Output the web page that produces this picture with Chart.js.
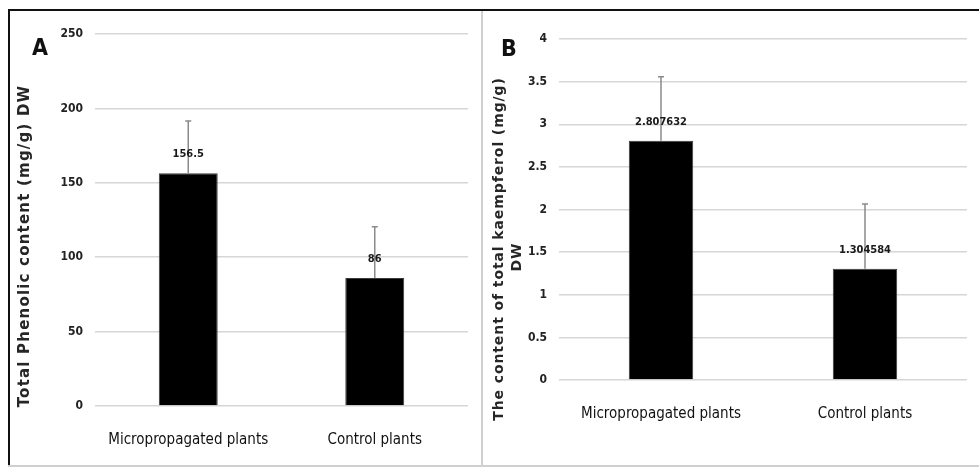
<!DOCTYPE html>
<html>
<head>
<meta charset="utf-8">
<script src="https://cdn.jsdelivr.net/npm/chart.js@4"></script>
<style>
  html, body { margin: 0; padding: 0; background: #fff; }
  body { width: 979px; height: 468px; position: relative; overflow: hidden; }
  canvas { position: absolute; }
  .line { position: absolute; }
  .letter { position: absolute; font-family: 'Liberation Sans Narrow', 'DejaVu Sans Condensed', sans-serif; font-weight: bold; font-size: 23px; color: #111; line-height: 1; }
</style>
</head>
<body>
<div class="line" style="left:8px;top:9px;width:971px;height:2px;background:#111;"></div>
<div class="line" style="left:8px;top:9px;width:2px;height:458px;background:#111;"></div>
<div class="line" style="left:8px;top:465px;width:971px;height:2px;background:#d0d0d0;"></div>
<div class="line" style="left:481px;top:11px;width:2px;height:455px;background:#d0d0d0;"></div>
<canvas id="cA" width="471" height="454" style="left:10px;top:11px;"></canvas>
<canvas id="cB" width="495" height="454" style="left:484px;top:11px;"></canvas>
<div class="letter" style="left:32px;top:36px;">A</div>
<div class="letter" style="left:501px;top:37px;">B</div>
<script>
const categories = ['Micropropagated plants', 'Control plants'];
const phenolic = [156.5, 86];
const phenolicErr = [35, 34.5];
const phenolicLabels = ['156.5', '86'];
const kaempferol = [2.807632, 1.304584];
const kaempferolErr = [0.75, 0.76];
const kaempferolLabels = ['2.807632', '1.304584'];
const yTicksA = [0, 50, 100, 150, 200, 250];
const yTicksB = [0, 0.5, 1, 1.5, 2, 2.5, 3, 3.5, 4];
const titleA = ['Total Phenolic content (mg/g) DW'];
const titleB = ['The content of total kaempferol (mg/g)', 'DW'];

const NARROW = "'Liberation Sans Narrow', 'DejaVu Sans Condensed', sans-serif";

const errPlugin = {
  id: 'errbars',
  afterDatasetsDraw(chart, args, opts) {
    const ctx = chart.ctx;
    const meta = chart.getDatasetMeta(0);
    const ys = chart.scales.y;
    const ds = chart.data.datasets[0];
    meta.data.forEach((bar, i) => {
      const v = ds.data[i];
      const yTop = ys.getPixelForValue(v + opts.errors[i]);
      ctx.save();
      ctx.strokeStyle = '#8a8a8a';
      ctx.lineWidth = 1.5;
      ctx.beginPath();
      ctx.moveTo(bar.x, bar.y);
      ctx.lineTo(bar.x, yTop);
      ctx.moveTo(bar.x - 3, yTop);
      ctx.lineTo(bar.x + 3, yTop);
      ctx.stroke();
      ctx.font = 'bold 11px ' + NARROW;
      ctx.fillStyle = '#1a1a1a';
      ctx.textAlign = 'center';
      ctx.textBaseline = 'middle';
      ctx.fillText(opts.labels[i], bar.x, bar.y - 19);
      ctx.restore();
    });
  }
};

const titlePlugin = {
  id: 'ytitle',
  afterDraw(chart, args, opts) {
    const ctx = chart.ctx;
    ctx.save();
    ctx.font = 'bold ' + opts.size + 'px "DejaVu Sans", Verdana, sans-serif';
    ctx.letterSpacing = opts.spacing + 'px';
    ctx.fillStyle = '#262626';
    ctx.textAlign = 'center';
    ctx.textBaseline = 'middle';
    opts.lines.forEach((t, i) => {
      ctx.save();
      ctx.translate(opts.x + i * opts.lineGap, opts.y + i * opts.shift);
      ctx.rotate(-Math.PI / 2);
      ctx.fillText(t, 0, 0);
      ctx.restore();
    });
    ctx.restore();
  }
};

function makeChart(id, values, errs, labels, ticks, max, yWidth, xHeight, pad, title) {
  return new Chart(document.getElementById(id), {
    type: 'bar',
    data: {
      labels: categories,
      datasets: [{
        data: values,
        backgroundColor: '#000',
        borderColor: '#3a3a3a',
        borderWidth: 1,
        categoryPercentage: 1,
        barPercentage: 0.316
      }]
    },
    plugins: [errPlugin, titlePlugin],
    options: {
      responsive: false,
      animation: false,
      devicePixelRatio: 1,
      layout: { padding: pad },
      plugins: {
        legend: { display: false },
        tooltip: { enabled: false },
        errbars: { errors: errs, labels: labels },
        ytitle: title
      },
      scales: {
        x: {
          grid: { display: false, drawTicks: false, tickLength: 0 },
          border: { display: false },
          ticks: { color: '#111', font: { family: NARROW, size: 15 }, padding: 25, maxRotation: 0 },
          afterFit(s) { s.height = xHeight; }
        },
        y: {
          min: 0, max: max,
          afterBuildTicks(s) { s.ticks = ticks.map(v => ({ value: v })); },
          grid: { color: '#d6d6d6', lineWidth: 1.5, drawTicks: false, tickLength: 0 },
          border: { display: false },
          ticks: {
            color: '#222', font: { family: NARROW, size: 12, weight: 'bold' }, padding: 12,
            callback: (v) => String(v)
          },
          afterFit(s) { s.width = yWidth; }
        }
      }
    }
  });
}

makeChart('cA', phenolic, phenolicErr, phenolicLabels, yTicksA, 250, 85, 59,
  { top: 23, right: 13, bottom: 0, left: 0 },
  { lines: titleA, x: 15, y: 235, lineGap: 18, shift: 0, size: 15, spacing: 1.2 });
makeChart('cB', kaempferol, kaempferolErr, kaempferolLabels, yTicksB, 4, 75, 85,
  { top: 28, right: 12, bottom: 0, left: 0 },
  { lines: titleB, x: 15, y: 238, lineGap: 18, shift: 8, size: 14, spacing: 0.9 });
</script>
</body>
</html>
